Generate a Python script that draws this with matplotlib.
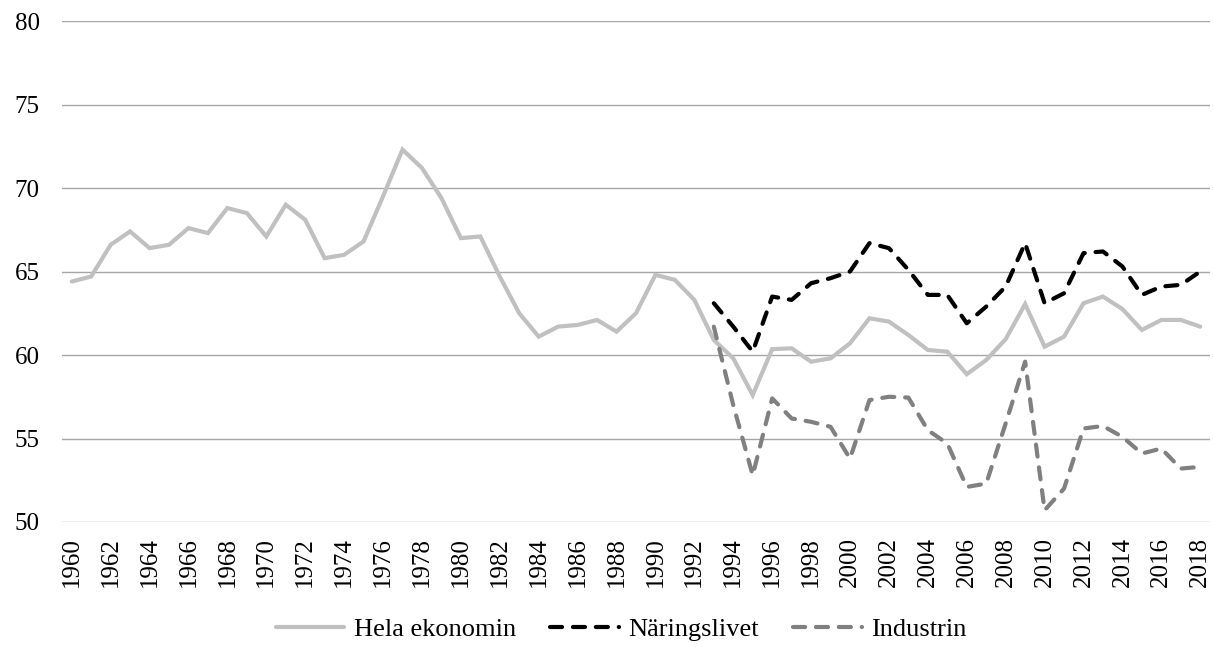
import matplotlib.pyplot as plt
from matplotlib import font_manager

# pick the first Times-like family that is actually installed
serif = 'DejaVu Serif'
for name in ['Liberation Serif', 'Times New Roman', 'Tinos', 'Nimbus Roman', 'FreeSerif']:
    try:
        font_manager.findfont(name, fallback_to_default=False)
        serif = name
        break
    except ValueError:
        pass
plt.rcParams['font.family'] = [serif, 'DejaVu Serif']

years = list(range(1960, 2019))
hela = [64.4, 64.7, 66.6, 67.4, 66.4, 66.6, 67.6, 67.3, 68.8, 68.5,
        67.1, 69.0, 68.1, 65.8, 66.0, 66.8, 69.5, 72.3, 71.2, 69.4,
        67.0, 67.1, 64.7, 62.5, 61.1, 61.7, 61.8, 62.1, 61.4, 62.5,
        64.8, 64.5, 63.3, 60.9, 59.8, 57.6, 60.35, 60.4, 59.6, 59.8,
        60.7, 62.2, 62.0, 61.2, 60.3, 60.2, 58.85, 59.7, 60.95, 63.05,
        60.5, 61.1, 63.1, 63.5, 62.75, 61.5, 62.1, 62.1, 61.7]
years_93 = list(range(1993, 2019))
naring = [63.1, 61.7, 60.2, 63.5, 63.3, 64.3, 64.6, 65.0, 66.7, 66.4,
          65.1, 63.6, 63.6, 61.9, 62.9, 64.1, 66.7, 63.1, 63.7, 66.1,
          66.2, 65.3, 63.6, 64.1, 64.2, 65.0]
industri = [61.7, 57.0, 52.8, 57.4, 56.2, 56.0, 55.7, 53.8, 57.3, 57.5,
            57.45, 55.5, 54.7, 52.1, 52.3, 55.9, 59.6, 50.7, 52.0, 55.6,
            55.75, 55.1, 54.1, 54.4, 53.2, 53.3]

fig = plt.figure(figsize=(12.13, 6.47), dpi=100)
ax = fig.add_axes([0.0511, 0.1932, 0.9464, 0.7743])

dash = (2.9, 2.6)
ax.plot(years, hela, color='#c0c0c0', lw=3, solid_capstyle='round',
        solid_joinstyle='miter', label='Hela ekonomin')
ax.plot(years_93, naring, color='black', lw=3, dashes=dash,
        dash_capstyle='round', label='Näringslivet')
ax.plot(years_93, industri, color='#808080', lw=3, dashes=dash,
        dash_capstyle='round', label='Industrin')

ax.set_xlim(1959.5, 2018.5)
ax.set_ylim(50, 80)
ax.set_yticks(range(50, 81, 5))
ax.set_xticks(range(1960, 2019, 2))
ax.set_xticklabels([str(y) for y in range(1960, 2019, 2)], rotation=90)
ax.tick_params(length=0, labelsize=18)
ax.tick_params(axis='x', pad=11)
ax.tick_params(axis='y', pad=16)
ax.grid(axis='y', color='#a6a6a6', lw=1)
ax.set_axisbelow(True)
for s in ax.spines.values():
    s.set_visible(False)

ax.legend(loc='center', bbox_to_anchor=(0.487, -0.215), ncol=3,
          frameon=False, fontsize=19, handlelength=2.6, columnspacing=1.3,
          handletextpad=0.36, borderaxespad=0, borderpad=0)

fig.savefig('out.png', dpi=100)
